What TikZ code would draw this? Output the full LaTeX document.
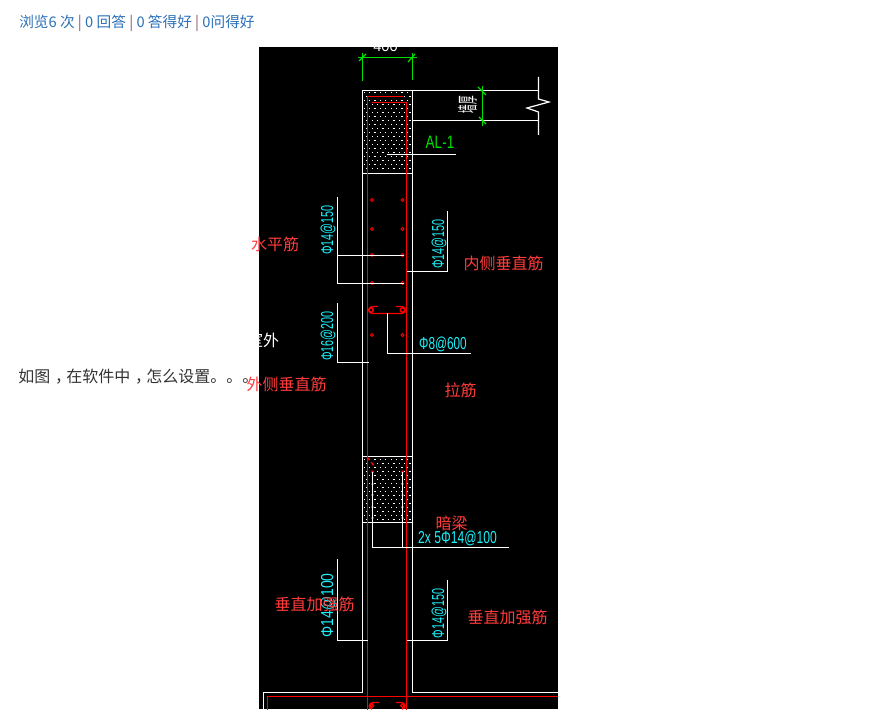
\documentclass[tikz,border=0pt]{standalone}
\usepackage{fontspec}
\setmainfont{Noto Sans CJK SC}
\newfontfamily\cadfont{Liberation Sans}
\definecolor{cadred}{HTML}{FF0000}
\definecolor{notered}{HTML}{FF3B3B}
\definecolor{cadcyan}{HTML}{1CF0F8}
\definecolor{cadgreen}{HTML}{00E000}
\definecolor{pagelink}{HTML}{2B70B8}
\definecolor{pagetext}{HTML}{333333}
\tikzset{
  wall/.style={draw=white,line width=0.9pt},
  rebar/.style={draw=cadred,line width=1.05pt},
  dimline/.style={draw=cadgreen,line width=0.9pt},
  note/.style={text=notered,inner sep=0pt,font=\fontsize{12}{12}\selectfont},
  cadtext/.style={text=cadcyan,inner sep=0pt,font=\cadfont\fontsize{13}{13}\selectfont,xscale=0.68},
  cadup/.style={text=cadcyan,inner sep=0pt,font=\cadfont\fontsize{13}{13}\selectfont,rotate=90,xscale=0.62},
  pageline/.style={inner sep=0pt,anchor=west}
}
% comma set in the middle of its box, as the page prints it
\newcommand{\midcomma}{\kern.3em，\kern-.3em}
% hatch dots of a concrete zone, from y=#1 to y=#2
\newcommand{\hatchdots}[2]{%
  \foreach \r in {0,...,40}{
    \pgfmathsetmacro{\yy}{#1+4*\r}
    \pgfmathsetmacro{\xoff}{mod(\r,2)*2.7}
    \ifdim\yy pt<#2pt
      \foreach \c in {0,...,8}{
        \fill[white] ({363.5+\xoff+5.4*\c},\yy) rectangle +(1.3,1.3);
      }
    \fi
  }
}
\begin{document}
\begin{tikzpicture}[x=0.75pt,y=-0.75pt]
  \useasboundingbox (0,0) rectangle (883,720);
  \fill[white] (0,0) rectangle (883,720);
  % page text
  \node[pageline,text=pagelink,font=\fontsize{11}{11}\selectfont] (pagestats) at (19,23) {浏览6 次 \textcolor{pagelink!60!red!70!gray}{|} 0 回答 \textcolor{pagelink!60!red!70!gray}{|} 0 答得好 \textcolor{pagelink!60!red!70!gray}{|} 0问得好};
  \node[pageline,text=pagetext,font=\fontsize{12}{12}\selectfont] (pagequest) at (18,376.5) {如图\midcomma 在软件中\midcomma 怎么设置。。。};
  \fill[black] (259,47) rectangle (558,709);
  \begin{scope}
    \clip (259,47) rectangle (558,709);
    % concrete zones
    \hatchdots{92}{172}
    \hatchdots{459}{521}
    % walls and wall top
    \draw[wall] (538.5,90.5) -- (362.5,90.5) -- (362.5,692.5) -- (263.5,692.5) -- (263.5,712);
    \draw[wall] (412.5,90.5) -- (412.5,692.5) -- (560,692.5);
    \draw[wall] (362.5,173.5) -- (412.5,173.5);
    \draw[wall] (362.5,456.5) -- (412.5,456.5);
    \draw[wall] (362.5,522.5) -- (412.5,522.5);
    \draw[wall] (412.5,120.5) -- (538.5,120.5);
    \draw[wall] (538.5,77) -- (538.5,99) -- (549,102) -- (527,108) -- (538.5,112) -- (538.5,135);
    % rebars
    \draw[rebar,line width=1.4pt] (403,96.5) -- (367.5,96.5) -- (367.5,712);
    \draw[rebar] (372,102.5) -- (406.5,102.5) -- (406.5,712);
    \draw[rebar] (267.5,712) -- (267.5,696.5) -- (560,696.5);
    \draw[rebar,densely dashed] (367,457) -- (375,467);
    \foreach \y in {200,229,255,283,335}{
      \draw[rebar,line width=0.6pt] (372,\y) circle (1.5);
      \draw[rebar,line width=0.6pt] (402.5,\y) circle (1.5);
    }
    \foreach \y in {472,484,495,507,518}{
      \fill[cadred] (372.5,\y) circle (1.6);
      \fill[cadred] (402.5,\y) circle (1.6);
    }
    % tie bar and hooks
    \draw[rebar] (378,306.5) -- (374,306.5) .. controls (367,306.5) and (367,313.5) .. (373,313.5) -- (400,313.5) .. controls (407,313.5) and (407,306.5) .. (400,306.5) -- (396,306.5);
    \draw[rebar] (371,310) circle (2.2);
    \draw[rebar] (402.5,310) circle (2.2);
    \draw[rebar] (379,702.5) -- (374,702.5) .. controls (368,702.5) and (368,709) .. (372,709);
    \draw[rebar] (396,702.5) -- (401,702.5) .. controls (406,702.5) and (406,709) .. (402,709);
    \draw[rebar] (371.7,705.7) circle (1.8);
    \draw[rebar] (402.5,705.7) circle (1.8);
    % leaders
    \draw[wall] (387,154.5) -- (456,154.5);
    \draw[wall] (404,255.5) -- (337.5,255.5);
    \draw[wall] (337.5,197) -- (337.5,283.5) -- (404,283.5);
    \draw[wall] (337.5,303) -- (337.5,362.5) -- (369,362.5);
    \draw[wall] (447.5,211) -- (447.5,271.5) -- (406.5,271.5);
    \draw[wall] (387.5,313.5) -- (387.5,353.5) -- (471,353.5);
    \draw[wall] (372.5,472) -- (372.5,547.5) -- (509,547.5);
    \draw[wall] (402.5,472) -- (402.5,547.5);
    \draw[wall] (337.5,559) -- (337.5,640.5) -- (367.5,640.5);
    \draw[wall] (447.5,580) -- (447.5,640.5) -- (406.5,640.5);
    % dimensions
    \draw[dimline] (358,57.5) -- (417,57.5);
    \draw[dimline] (362.5,53) -- (362.5,81);
    \draw[dimline] (412.5,53) -- (412.5,80);
    \draw[dimline] (359,61) -- (366,54);
    \draw[dimline] (408,62) -- (415,54);
    \draw[dimline] (482.5,86) -- (482.5,126);
    \draw[dimline] (478,87) -- (486,95);
    \draw[dimline] (479,117) -- (486,124);
    \node[inner sep=0pt,text=white,font=\cadfont\fontsize{11}{11}\selectfont] (wallwidth) at (385.5,46.5) {400};
    \node[inner sep=0pt,text=white,font=\fontsize{6.5}{6.5}\selectfont,rotate=90,yscale=2.4] (wallthick) at (467.5,104.5) {墙厚};
    \node[inner sep=0pt,text=cadgreen,font=\cadfont\fontsize{13.5}{13.5}\selectfont,xscale=0.75] (alname) at (440,142) {AL-1};
    \node[inner sep=0pt,text=white,font=\fontsize{12}{12}\selectfont] (outdoor) at (263,340) {室外};
    % rebar labels
    \node[cadup] (labhorz) at (328,230) {Φ14@150};
    \node[cadup] (labinner) at (439,244) {Φ14@150};
    \node[cadup] (labouter) at (328,336) {Φ16@200};
    \node[cadtext] (labtie) at (443,344) {Φ8@600};
    \node[cadtext,xscale=1.03] (labbeam) at (457.5,538) {2x 5Φ14@100};
    \node[cadup,xscale=1.3] (labaddl) at (328,605.5) {Φ14@100};
    \node[cadup] (labaddr) at (439,613.5) {Φ14@150};
  \end{scope}
  % red notes over the drawing
  \node[note] (horzbar) at (275,244) {水平筋};
  \node[note] (innerbar) at (503.5,263) {内侧垂直筋};
  \node[note] (outerbar) at (286.5,384.5) {外侧垂直筋};
  \node[note] (tiebar) at (460.5,390) {拉筋};
  \node[note] (hidbeam) at (451.5,523.5) {暗梁};
  \node[note] (addleft) at (314.5,604.5) {垂直加强筋};
  \node[note] (addright) at (507.5,617.5) {垂直加强筋};
\end{tikzpicture}
\end{document}
